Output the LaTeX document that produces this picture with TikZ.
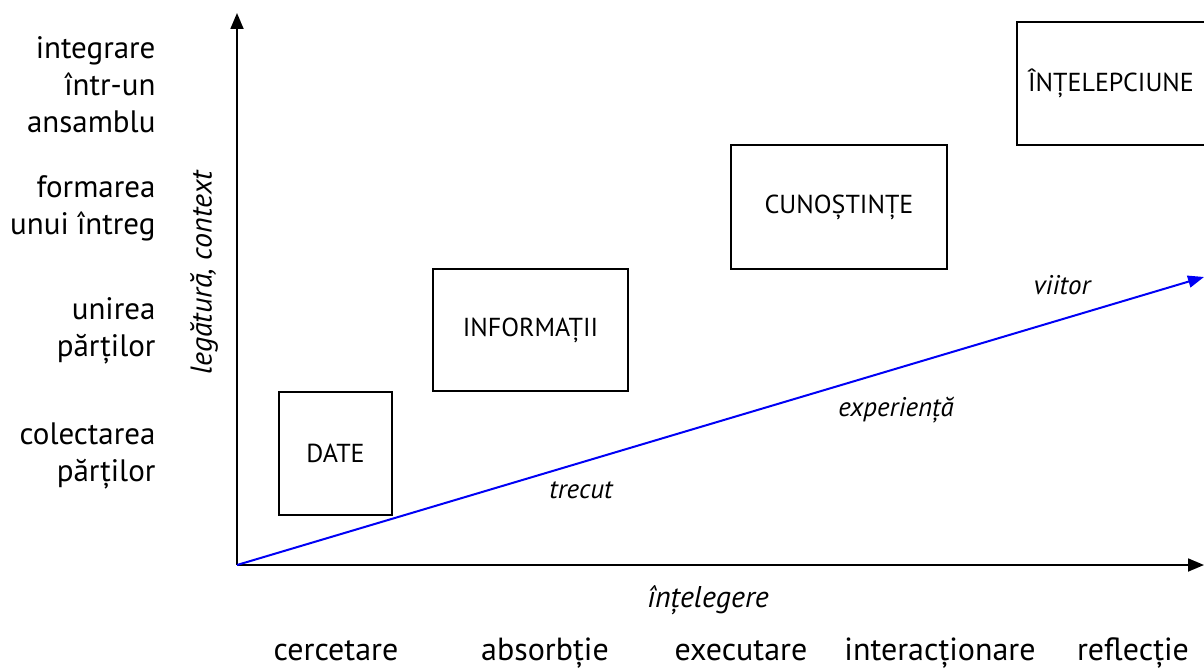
\documentclass[tikz,border=0pt]{standalone}
\usepackage{fontspec}
\setmainfont{PT Sans}
\usetikzlibrary{arrows.meta}
\tikzset{
  stage/.style={draw=black, line width=2.6pt, inner sep=0pt, font=\fontsize{26}{30}\selectfont},
  axis/.style={line width=1.8pt, -{Triangle[length=16pt,width=13pt]}},
  timeline/.style={draw={rgb,255:red,0;green,0;blue,245}, line width=2pt, -{Triangle[length=16pt,width=12pt]}},
  level/.style={align=right, anchor=east, font=\fontsize{31}{37}\selectfont},
  activity/.style={anchor=base, font=\fontsize{32}{36}\selectfont},
  phase/.style={font=\fontsize{27}{30}\itshape\selectfont},
  axislabel/.style={font=\fontsize{30}{34}\itshape\selectfont}
}
\begin{document}
\begin{tikzpicture}[x=1pt,y=-1pt]
  \useasboundingbox (0,0) rectangle (1204,668);

  % axes
  \coordinate (O) at (237,565);
  \coordinate (ytop) at (237,13);
  \coordinate (xend) at (1204,565);
  \coordinate (fut) at (1204,277);
  \draw[axis] (O) -- (ytop);
  \draw[axis] (O) -- (xend);
  \draw[timeline] (O) -- (fut);

  % stages
  \node[stage, minimum width=113pt, minimum height=123pt] (date) at (335.5,453.5) {DATE};
  \node[stage, minimum width=195pt, minimum height=122pt] (info) at (530.5,330) {INFORMAȚII};
  \node[stage, minimum width=216pt, minimum height=124pt] (cuno) at (839,207) {CUNOȘTINȚE};
  \node[stage, minimum width=188pt, minimum height=123pt] (intel) at (1111,83.5) {ÎNȚELEPCIUNE};

  % vertical levels
  \node[level] (l4) at (159,85) {integrare\\într-un\\ansamblu};
  \node[level] (l3) at (159,208) {formarea\\unui întreg};
  \node[level] (l2) at (159,331) {unirea\\părților};
  \node[level] (l1) at (159,456) {colectarea\\părților};

  % axis labels
  \node[axislabel, rotate=90] (ylab) at (204,273) {legătură, context};
  \node[axislabel] (xlab) at (708,600) {înțelegere};

  % activities
  \node[activity] (a1) at (336,660) {cercetare};
  \node[activity] (a2) at (545,660) {absorbție};
  \node[activity] (a3) at (741,660) {executare};
  \node[activity] (a4) at (940,660) {interacționare};
  \node[activity] (a5) at (1133,660) {reflecție};

  % time labels
  \node[phase] (t1) at (581,490) {trecut};
  \node[phase] (t2) at (896,410) {experiență};
  \node[phase] (t3) at (1062,285) {viitor};
\end{tikzpicture}
\end{document}
